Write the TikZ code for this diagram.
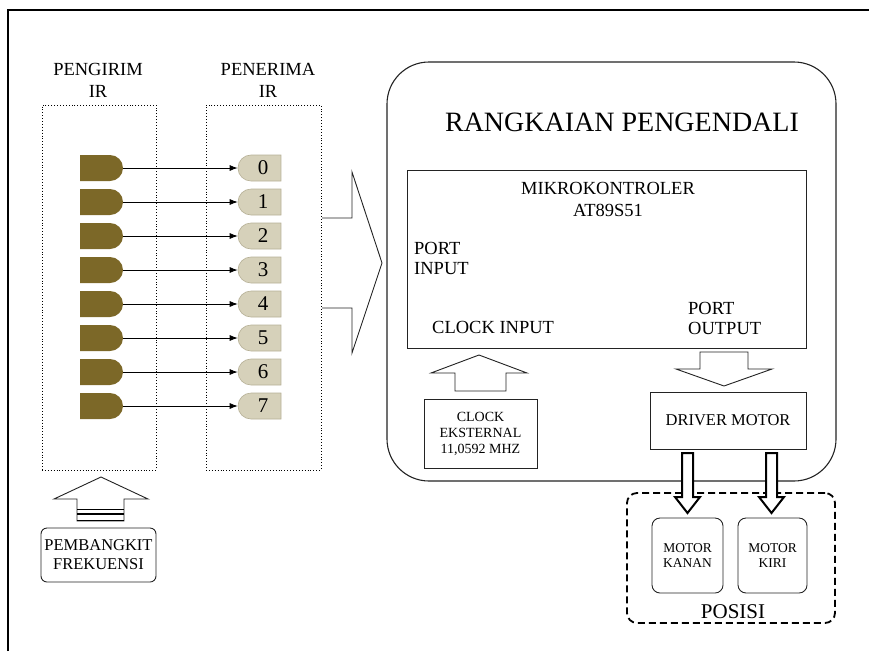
\documentclass[tikz,border=0pt]{standalone}
\usepackage{fontspec}
\setmainfont{Liberation Serif}
\usetikzlibrary{shapes.misc,arrows.meta}
\definecolor{txcol}{RGB}{124,104,40}
\definecolor{rxcol}{RGB}{214,209,186}
\definecolor{rxline}{RGB}{182,176,150}
\definecolor{linecol}{RGB}{35,35,35}
\newcommand\myfs[2]{\fontsize{#1}{#2}\selectfont}
\begin{document}
\begin{tikzpicture}[x=1pt,y=-1pt,line join=miter,
  txbox/.style={rounded rectangle, rounded rectangle left arc=none, fill=txcol,
    minimum width=43, minimum height=26, inner sep=0},
  rxbox/.style={rounded rectangle, rounded rectangle right arc=none, fill=rxcol,
    draw=rxline, line width=0.6, minimum width=43, minimum height=26, inner sep=0,
    font=\myfs{21}{21}},
  conn/.style={draw=black, line width=0.8, -{Latex[length=8pt,width=6pt]}},
  dotbox/.style={draw, dotted, line width=0.9, inner sep=0},
  lbl/.style={inner sep=0, font=\myfs{18.5}{22}},
  blk/.style={draw=linecol, line width=0.9, fill=white},
  bx/.style={draw=linecol, line width=0.9, inner sep=0, align=center},
  thickarr/.style={draw=black, line width=2, fill=white}
]
\useasboundingbox (0,0) rectangle (869,651);
% outer frame
\draw[line width=2.4] (8,651) -- (8,10) -- (869,10);

% group labels
\node[lbl, align=center] (lpengirim) at (98,80) {PENGIRIM\\IR};
\node[lbl, align=center] (lpenerima) at (268,80) {PENERIMA\\IR};

% dotted groups
\node[dotbox, minimum width=114, minimum height=365] (txgrp) at (99,287.5) {};
\node[dotbox, minimum width=115, minimum height=365] (rxgrp) at (263.5,287.5) {};

% transmitters, receivers and links
\foreach \i in {0,...,7} {
  \pgfmathsetmacro\yy{168+34*\i}
  \node[txbox] (t\i) at (101.5,\yy) {};
  \node[rxbox] (r\i) at (260.5,\yy) {\hspace*{5pt}\i};
  \draw[conn] (t\i.east) -- (r\i.west);
}

% big right arrow
\draw[blk, fill=none] (322,218) -- (352,218) -- (352,172) -- (382,263) -- (352,353) -- (352,308) -- (322,308);

% control frame
\node[draw=linecol, line width=1.1, rounded corners=42, minimum width=449, minimum height=419, inner sep=0] (ctrl) at (611.5,271.5) {};
\node[inner sep=0, font=\myfs{28}{30}] (title) at (622,122) {RANGKAIAN PENGENDALI};

% microcontroller
\node[bx, minimum width=399, minimum height=178] (mcu) at (606.5,259) {};
\node[lbl, align=center] (mcutxt) at (608,199) {MIKROKONTROLER\\AT89S51};
\node[lbl, align=left, anchor=west, font=\myfs{18.5}{20}] (pin) at (414,258) {PORT\\INPUT};
\node[lbl, anchor=west] (cin) at (432,327) {CLOCK INPUT};
\node[lbl, align=left, anchor=west, font=\myfs{18.5}{20}] (pout) at (688,318) {PORT\\OUTPUT};

% clock
\draw[blk] (455,391) -- (455,373) -- (431,373) -- (479,355) -- (527,373) -- (506,373) -- (506,391) -- cycle;
\node[bx, minimum width=113, minimum height=69, font=\myfs{14}{16}] (clk) at (480.5,433.5) {CLOCK\\EKSTERNAL\\11,0592 MHZ};

% driver
\draw[blk] (700,352) -- (700,369) -- (676,369) -- (724,386) -- (772,369) -- (748,369) -- (748,352) -- cycle;
\node[bx, minimum width=156, minimum height=57, font=\myfs{16.5}{18}] (drv) at (728,420.5) {DRIVER MOTOR};

% posisi group
\node[draw=black, line width=1.8, dash pattern=on 7pt off 4pt, rounded corners=10, minimum width=208, minimum height=130, inner sep=0] (pos) at (731,558) {};
\node[bx, rounded corners=8, minimum width=71, minimum height=75, font=\myfs{13.5}{15}] (mkanan) at (687.5,555.5) {MOTOR\\KANAN};
\node[bx, rounded corners=8, minimum width=69, minimum height=75, font=\myfs{13.5}{15}] (mkiri) at (772.5,555.5) {MOTOR\\KIRI};
\node[inner sep=0, font=\myfs{21}{22}] (lpos) at (733,612) {POSISI};

% motor arrows
\draw[thickarr] (682,453) -- (682,497) -- (675,497) -- (687.5,513) -- (700,497) -- (693,497) -- (693,453) -- cycle;
\draw[thickarr] (766,453) -- (766,497) -- (759,497) -- (771.5,513) -- (784,497) -- (777,497) -- (777,453) -- cycle;

% pembangkit
\draw[blk] (77,521) -- (77,499) -- (54,499) -- (101,477) -- (148,499) -- (124,499) -- (124,521) -- cycle;
\draw[line width=1.2] (77,509.5) -- (124,509.5);
\draw[line width=1.6] (77,514) -- (124,514);
\draw[line width=1.2] (77,520.5) -- (124,520.5);
\node[bx, rounded corners=6, minimum width=115, minimum height=54, font=\myfs{16.5}{19}] (pemb) at (98.5,555) {PEMBANGKIT\\FREKUENSI};
\end{tikzpicture}
\end{document}
